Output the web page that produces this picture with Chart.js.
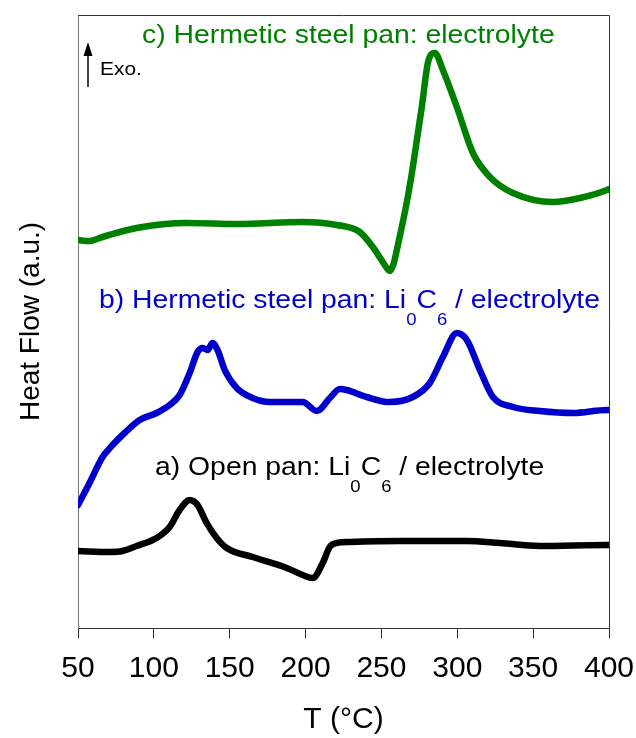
<!DOCTYPE html>
<html>
<head>
<meta charset="utf-8">
<script src="https://cdn.jsdelivr.net/npm/chart.js@4"></script>
<style>
  html, body { margin:0; padding:0; background:#fff; }
  #dsc { display:block; }
</style>
</head>
<body>
<canvas id="dsc" width="636" height="738"></canvas>
<script>
/* ------------------------------------------------------------
   DSC curves (heat flow in a.u., offset)
   ------------------------------------------------------------ */
var xTickValues = [50, 100, 150, 200, 250, 300, 350, 400];

// a) Open pan: Li0C6 / electrolyte
var tempA = [50, 70.8, 79.4, 88.6, 101.8, 110.4, 117, 123.6, 128.8, 134.8, 141.4, 148, 165.1, 187.6, 198.1, 204.7, 211.3, 215.9, 220.6, 229.2, 262.2, 306.3, 328, 354.4, 398.7, 400];
var flowA = [77, 76, 77, 82, 90, 101, 118, 128, 123, 105, 90, 80, 71, 60, 53, 50, 65, 81, 85, 86, 87, 87, 85, 82, 83, 83];

// b) Hermetic steel pan: Li0C6 / electrolyte
var tempB = [50, 57.6, 66.2, 72.8, 80.7, 90.6, 101.8, 110.4, 117, 123.6, 128.8, 132.1, 135.4, 138.7, 142, 146.7, 154.6, 165.1, 176.3, 198.1, 207.4, 216, 222.5, 227.1, 240.3, 255.5, 270.7, 281.9, 290.5, 299.7, 306.3, 314.9, 323.5, 336.7, 354.5, 376.3, 398.7, 400];
var flowB = [123, 145, 171, 183, 195, 208, 215, 223, 233, 255, 276, 280, 278, 285, 278, 258, 240, 230, 226, 226, 217, 230, 239, 238, 231, 226, 231, 245, 271, 295, 288, 258, 231, 221, 217, 215, 218, 218];

// c) Hermetic steel pan: electrolyte
var tempC = [50, 57, 66.2, 88.6, 121.6, 154.6, 198.1, 220.6, 235.7, 244.3, 250.9, 253.5, 255.5, 258, 260, 263, 267, 270.7, 276.6, 280.6, 285.2, 290.5, 299.7, 310.3, 321.5, 336.7, 363.1, 380.9, 398.7, 400];
var flowC = [388, 387, 391, 400, 405, 404, 406, 403, 396, 381, 366, 360, 357, 364, 377, 398, 428, 461, 521, 565, 575, 558, 521, 475, 451, 435, 426, 430, 438, 439];

var seriesColors = ['#000000', '#0000cc', '#008000'];

// curve labels: pieces, subscripts flagged
var labelA = [['a) Open pan: Li'], ['0', 1], ['C'], ['6', 1], [' / electrolyte']];
var labelB = [['b) Hermetic steel pan: Li'], ['0', 1], ['C'], ['6', 1], [' / electrolyte']];
var labelC = [['c) Hermetic steel pan: electrolyte']];

function pairs(xs, ys) {
  return xs.map(function(x, i) { return { x: x, y: ys[i] }; });
}

/* ------------------------------------------------------------
   Plugins: frame, curve labels, exo arrow
   ------------------------------------------------------------ */
var SANS = "'Liberation Sans', Arial, sans-serif";
var TXT_STRETCH = 1.09;

function drawParts(ctx, x, y, parts, color) {
  ctx.save();
  ctx.translate(x, y);
  ctx.scale(TXT_STRETCH, 1);
  ctx.fillStyle = color;
  ctx.textBaseline = 'alphabetic';
  ctx.textAlign = 'left';
  var pen = 0;
  parts.forEach(function(p) {
    var sub = p[1] === 1;
    ctx.font = (sub ? '17px ' : '26px ') + SANS;
    ctx.fillText(p[0], pen, sub ? 17 : 0);
    pen += ctx.measureText(p[0]).width;
  });
  ctx.restore();
}

var framePlugin = {
  id: 'frame',
  afterDraw: function(chart) {
    var a = chart.chartArea, ctx = chart.ctx;
    ctx.save();
    ctx.strokeStyle = '#333';
    ctx.lineWidth = 1;
    ctx.beginPath();
    ctx.moveTo(a.left, a.top + 0.5);
    ctx.lineTo(a.right + 0.5, a.top + 0.5);
    ctx.lineTo(a.right + 0.5, a.bottom);
    ctx.stroke();
    ctx.restore();
  }
};

var labelPlugin = {
  id: 'curveLabels',
  afterDatasetsDraw: function(chart) {
    var ctx = chart.ctx;
    drawParts(ctx, 142, 43, labelC, seriesColors[2]);
    drawParts(ctx, 99, 308, labelB, seriesColors[1]);
    drawParts(ctx, 155, 475, labelA, seriesColors[0]);

    // Exo. arrow
    ctx.save();
    ctx.strokeStyle = '#000';
    ctx.fillStyle = '#000';
    ctx.lineWidth = 1.5;
    ctx.beginPath();
    ctx.moveTo(88, 87);
    ctx.lineTo(88, 52);
    ctx.stroke();
    ctx.beginPath();
    ctx.moveTo(88, 42);
    ctx.lineTo(83.5, 56);
    ctx.lineTo(92.5, 56);
    ctx.closePath();
    ctx.fill();
    ctx.restore();
    ctx.save();
    ctx.translate(100, 75);
    ctx.scale(1.1, 1);
    ctx.font = '19px ' + SANS;
    ctx.fillStyle = '#000';
    ctx.fillText('Exo.', 0, 0);
    ctx.restore();
  }
};

/* ------------------------------------------------------------
   Chart
   ------------------------------------------------------------ */
function lineSet(label, xs, ys, color) {
  return {
    label: label,
    data: pairs(xs, ys),
    borderColor: color,
    backgroundColor: color,
    borderWidth: 6.5,
    pointRadius: 0,
    fill: false,
    cubicInterpolationMode: 'monotone',
    borderCapStyle: 'round',
    borderJoinStyle: 'round'
  };
}

new Chart(document.getElementById('dsc'), {
  type: 'line',
  data: {
    datasets: [
      lineSet('a', tempA, flowA, seriesColors[0]),
      lineSet('b', tempB, flowB, seriesColors[1]),
      lineSet('c', tempC, flowC, seriesColors[2])
    ]
  },
  options: {
    responsive: false,
    animation: false,
    devicePixelRatio: 1,
    layout: { padding: { top: 15, right: 27, left: 0, bottom: 0 } },
    plugins: { legend: { display: false }, tooltip: { enabled: false } },
    scales: {
      x: {
        type: 'linear',
        min: 50, max: 400,
        afterBuildTicks: function(s) { s.ticks = xTickValues.map(function(v) { return { value: v }; }); },
        afterFit: function(s) { s.height = 110; s.paddingLeft = 0; s.paddingRight = 0; },
        grid: { drawOnChartArea: false, drawTicks: true, tickLength: 10, color: '#333' },
        border: { display: true, color: '#333', width: 1 },
        ticks: { color: '#000', padding: 13, maxRotation: 0, autoSkip: false, font: { family: SANS, size: 30 } },
        title: { display: true, text: 'T (°C)', color: '#000', padding: { top: 0, bottom: 0 }, font: { family: SANS, size: 30 } }
      },
      y: {
        min: 0, max: 613,
        afterFit: function(s) { s.width = 78; },
        grid: { display: false },
        border: { display: true, color: '#777', width: 1 },
        ticks: { display: false },
        title: { display: true, text: 'Heat Flow (a.u.)', color: '#000', padding: { top: 14, bottom: 0 }, font: { family: SANS, size: 28 } }
      }
    }
  },
  plugins: [framePlugin, labelPlugin]
});
</script>
</body>
</html>
